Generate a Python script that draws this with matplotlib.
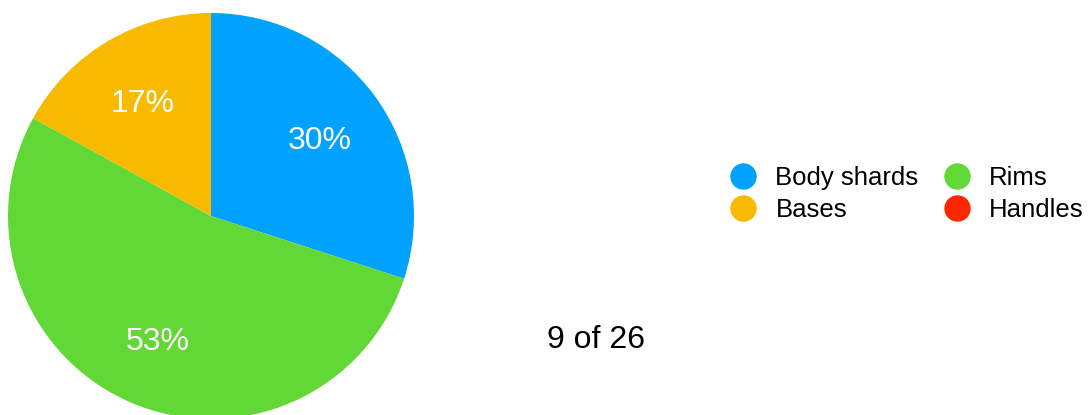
import matplotlib
matplotlib.use("Agg")
import matplotlib.pyplot as plt
from matplotlib.lines import Line2D

plt.rcParams['font.family'] = ['Liberation Sans', 'DejaVu Sans']

categories = ["Body shards", "Rims", "Bases", "Handles"]
values = [30, 53, 17, 0]
colors = ["#00A2FF", "#61D836", "#F8BA00", "#FF2600"]
caption = "9 of 26"

W, H = 1089, 415
fig = plt.figure(figsize=(W / 100, H / 100), dpi=100)

cx, cy, r = 211, 216, 203
ax = fig.add_axes([(cx - r) / W, (H - cy - r) / H, 2 * r / W, 2 * r / H])
wedges, texts, autotexts = ax.pie(
    values, colors=colors, startangle=90, counterclock=False, radius=1,
    autopct=lambda p: f"{p:.0f}%" if p > 0.5 else "", pctdistance=0.66,
    textprops=dict(color="white", fontsize=23),
    wedgeprops=dict(linewidth=0))
for t in autotexts:
    t.set_verticalalignment('center_baseline')
ax.set_xlim(-1, 1)
ax.set_ylim(-1, 1)
ax.set_aspect('equal')
ax.axis('off')

order = [0, 2, 1, 3]
handles = [Line2D([], [], marker='o', linestyle='none', markersize=19,
                  markerfacecolor=colors[i], markeredgewidth=0) for i in order]
labels = [categories[i] for i in order]
fig.legend(handles, labels, ncol=2, loc='center left',
           bbox_to_anchor=(730 / W, 1 - 194 / H), frameon=False,
           fontsize=18.5, borderpad=0, borderaxespad=0, handlelength=1.05,
           handletextpad=0.72, columnspacing=0.98, labelspacing=0.3)

fig.text(596 / W, 1 - 336 / H, caption, ha='center', va='center_baseline',
         fontsize=23)

fig.savefig("out.png", dpi=100)
